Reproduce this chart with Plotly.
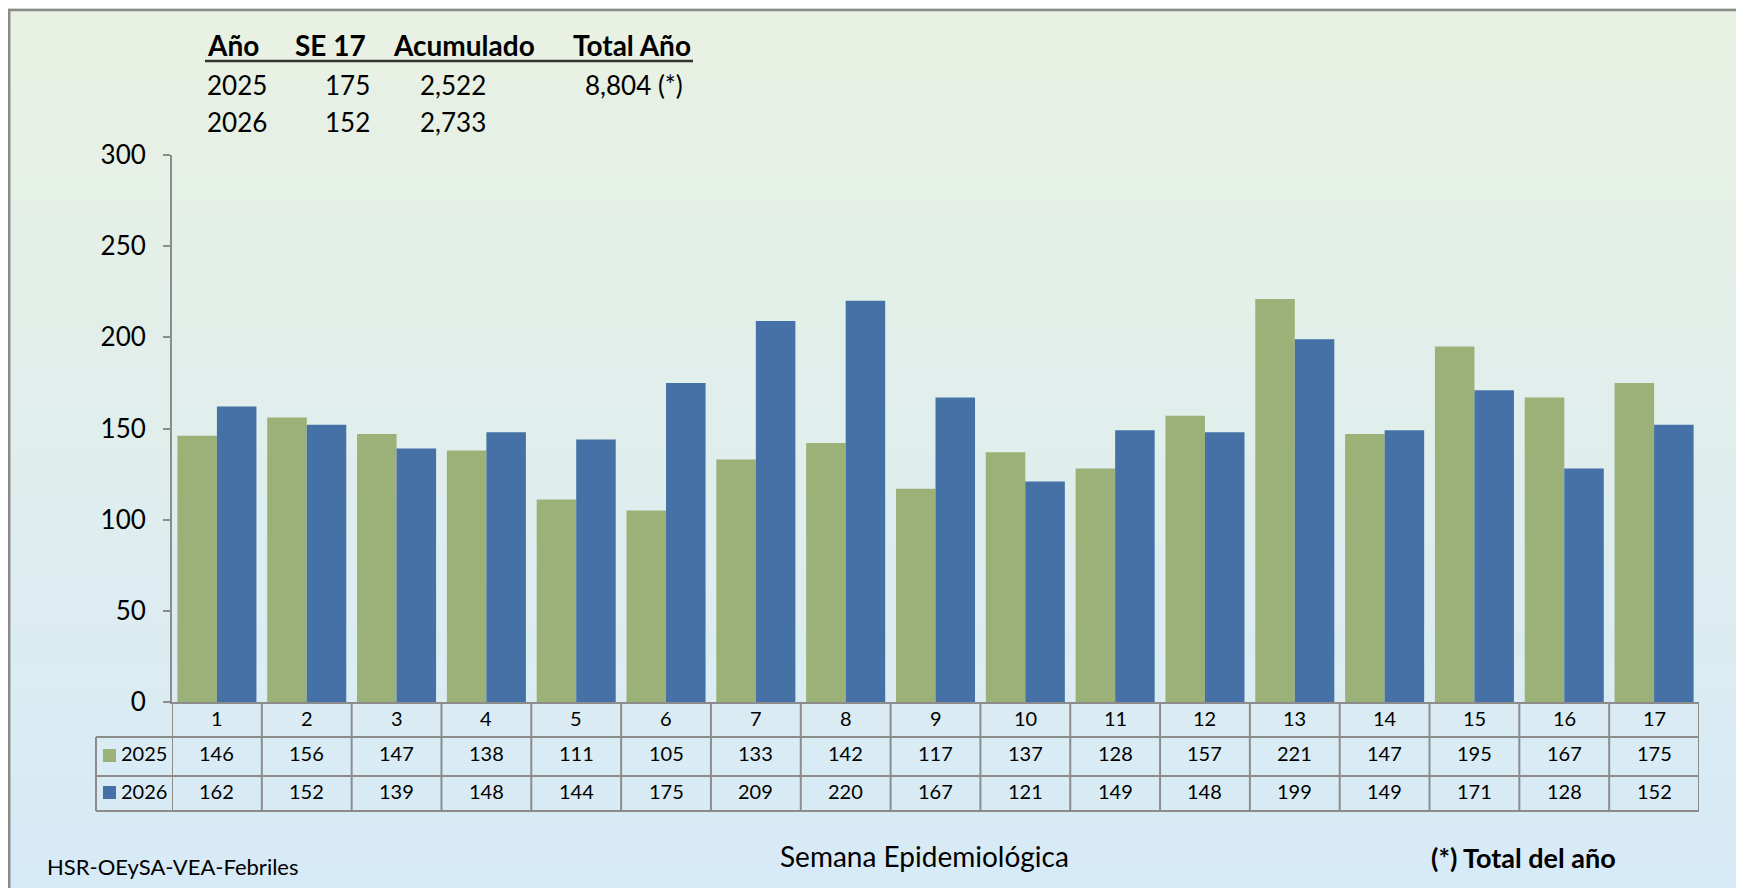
import plotly.graph_objects as go

# Data
weeks = list(range(1, 18))
cases_2025 = [146, 156, 147, 138, 111, 105, 133, 142, 117, 137, 128, 157, 221, 147, 195, 167, 175]
cases_2026 = [162, 152, 139, 148, 144, 175, 209, 220, 167, 121, 149, 148, 199, 149, 171, 128, 152]

summary_years = ["2025", "2026"]
summary_se17 = [175, 152]
summary_acum = [2522, 2733]
summary_total = ["8,804 (*)", ""]

GREEN = "#9BB177"
BLUE = "#4571A6"
GRID = "#8C8C8C"
FONT = "Lato, 'Open Sans', sans-serif"

W, H = 1744, 888
L, R, T, B = 164, 1691, 147, 694  # plot area in pixels (figure coords)


def px(x):
    return (x - L) / (R - L)


def py(y):
    return (B - y) / (B - T)


fig = go.Figure()
fig.add_trace(go.Bar(x=weeks, y=cases_2025, name="2025", marker=dict(color=GREEN, line=dict(width=0))))
fig.add_trace(go.Bar(x=weeks, y=cases_2026, name="2026", marker=dict(color=BLUE, line=dict(width=0))))

shapes = []
# background gradient (light green top -> light blue bottom)
top_c = (233, 241, 226)
bot_c = (214, 234, 247)
n = 60
for i in range(n):
    t = i / (n - 1)
    c = tuple(round(top_c[k] + (bot_c[k] - top_c[k]) * t) for k in range(3))
    y0 = i * H / n
    y1 = (i + 1) * H / n + 1
    shapes.append(dict(type="rect", xref="paper", yref="paper", layer="below",
                       x0=px(-5), x1=px(W + 5), y0=py(y0), y1=py(y1),
                       fillcolor="rgb(%d,%d,%d)" % c, line=dict(width=0)))
# outer border
shapes.append(dict(type="rect", xref="paper", yref="paper", layer="below",
                   x0=px(1.2), x1=px(W + 20), y0=py(2), y1=py(H + 20),
                   line=dict(color="#8A8A8A", width=2.5)))

# data table grid
for yy in [729, 768, 803]:
    shapes.append(dict(type="line", xref="paper", yref="paper",
                       x0=px(88), x1=px(R), y0=py(yy), y1=py(yy),
                       line=dict(color=GRID, width=2)))
for k in range(len(weeks) + 1):
    xb = weeks[0] - 0.5 + k
    shapes.append(dict(type="line", xref="x", yref="paper",
                       x0=xb, x1=xb, y0=py(B), y1=py(803),
                       line=dict(color=GRID, width=2)))
shapes.append(dict(type="line", xref="paper", yref="paper",
                   x0=px(88), x1=px(88), y0=py(729), y1=py(803),
                   line=dict(color=GRID, width=2)))
# legend keys
for yc, col in [(747.5, GREEN), (784.5, BLUE)]:
    shapes.append(dict(type="rect", xref="paper", yref="paper",
                       x0=px(95), x1=px(108), y0=py(yc - 6.5), y1=py(yc + 6.5),
                       fillcolor=col, line=dict(width=0)))
# summary underline
shapes.append(dict(type="line", xref="paper", yref="paper",
                   x0=px(197), x1=px(685), y0=py(53), y1=py(53),
                   line=dict(color="#333333", width=2.5)))

ann = []


def label(x, y, text, size, xanchor="center", xref="paper"):
    ann.append(dict(x=x, y=y, xref=xref, yref="paper", text=text, showarrow=False,
                    xanchor=xanchor, yanchor="middle",
                    font=dict(family=FONT, size=size, color="black")))


for w, a, b in zip(weeks, cases_2025, cases_2026):
    label(w, py(710), str(w), 20, xref="x")
    label(w, py(745.5), str(a), 20, xref="x")
    label(w, py(783), str(b), 20, xref="x")
for yc, name in [(745.5, "2025"), (783, "2026")]:
    label(px(111), py(yc), name, 20, xanchor="left")

# summary table
heads = [("<b>Año</b>", 197, "left"), ("<b>SE 17</b>", 360, "right"),
         ("<b>Acumulado</b>", 529, "right"), ("<b>Total Año</b>", 685, "right")]
for txt, xx, anc in heads:
    label(px(xx), py(37), txt, 28, xanchor=anc)
for yr, se, ac, tot, yc in zip(summary_years, summary_se17, summary_acum, summary_total, [77, 114]):
    label(px(197), py(yc), yr, 26, xanchor="left")
    label(px(364), py(yc), str(se), 26, xanchor="right")
    label(px(480), py(yc), f"{ac:,}", 26, xanchor="right")
    if tot:
        label(px(677), py(yc), tot, 26, xanchor="right")

# footer texts
label(px(916), py(848), "Semana Epidemiológica", 28)
label(px(1515), py(849), "<b>(*) Total del año</b>", 27)
label(px(37), py(858), "HSR-OEySA-VEA-Febriles", 22, xanchor="left")

fig.update_layout(
    width=W, height=H, autosize=False,
    margin=dict(l=L, r=W - R, t=T, b=H - B, pad=0),
    paper_bgcolor="rgb(224,237,236)",
    plot_bgcolor="rgba(0,0,0,0)",
    barmode="group", bargap=0.12, bargroupgap=0,
    showlegend=False,
    shapes=shapes,
    annotations=ann,
    font=dict(family=FONT, color="black"),
)
fig.update_xaxes(range=[0.5, 17.5], showticklabels=False, showgrid=False, zeroline=False,
                 showline=True, linecolor=GRID, linewidth=2, ticks="")
fig.update_yaxes(range=[0, 300], tickvals=[0, 50, 100, 150, 200, 250, 300], showgrid=False,
                 zeroline=False, showline=True, linecolor=GRID, linewidth=2,
                 ticks="outside", ticklen=7, tickcolor=GRID, tickwidth=2,
                 ticklabelstandoff=12, tickfont=dict(family=FONT, size=26, color="black"))

fig.write_html("out.html")
